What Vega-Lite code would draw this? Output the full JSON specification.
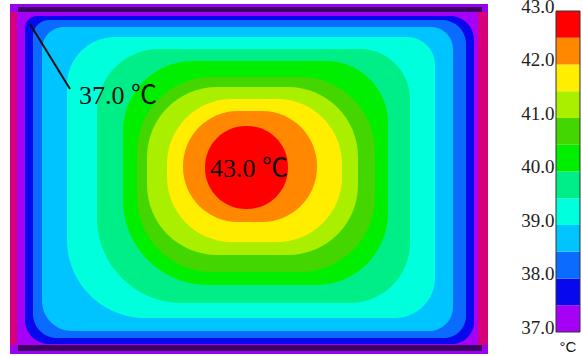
{
  "$schema": "https://vega.github.io/schema/vega-lite/v6.json",
  "padding": {"left": 10, "top": -3, "right": 2, "bottom": 1},
  "background": "white",
  "spacing": 32,
  "config": {"view": {"stroke": null}},
  "datasets": {
    "frame": [
      {"part": "wall", "x1": 0, "x2": 239, "y1": 0, "y2": 175},
      {"part": "rim", "x1": 0, "x2": 239, "y1": 0, "y2": 4},
      {"part": "rim", "x1": 0, "x2": 239, "y1": 170.5, "y2": 175},
      {"part": "seal", "x1": 4, "x2": 236, "y1": 1.5, "y2": 4},
      {"part": "seal", "x1": 4, "x2": 236, "y1": 170.5, "y2": 173.5}
    ],
    "bands": [
      {"t": 37.25, "x1": 3.5, "x2": 234, "y1": 4, "y2": 170.5},
      {"t": 37.75, "x1": 7.5, "x2": 232, "y1": 6, "y2": 170},
      {"t": 38.25, "x1": 11.5, "x2": 228, "y1": 8, "y2": 167},
      {"t": 38.75, "x1": 16, "x2": 221.5, "y1": 11.5, "y2": 163.5},
      {"t": 39.25, "x1": 28.5, "x2": 212.5, "y1": 16.5, "y2": 157},
      {"t": 39.75, "x1": 43.5, "x2": 200, "y1": 22.5, "y2": 149.5},
      {"t": 40.25, "x1": 56.5, "x2": 189, "y1": 28.5, "y2": 140.5},
      {"t": 40.75, "x1": 63.5, "x2": 182.5, "y1": 36.5, "y2": 134},
      {"t": 41.25, "x1": 68.5, "x2": 174, "y1": 41.5, "y2": 125.5},
      {"t": 41.75, "x1": 78.5, "x2": 166, "y1": 47.5, "y2": 119},
      {"t": 42.25, "x1": 86.5, "x2": 153.5, "y1": 53.5, "y2": 109},
      {"t": 42.75, "x1": 97.5, "x2": 139, "y1": 61, "y2": 102.5}
    ],
    "labels": [
      {"label": "43.0 ℃", "x1": 119.5, "y1": 82.5},
      {"label": "37.0 ℃", "x1": 54, "y1": 46}
    ],
    "leader": [
      {"x1": 10, "y1": 10, "x2": 30, "y2": 42.5}
    ],
    "scale": [
      {"lo": 37.0, "hi": 37.5, "t": 37.25},
      {"lo": 37.5, "hi": 38.0, "t": 37.75},
      {"lo": 38.0, "hi": 38.5, "t": 38.25},
      {"lo": 38.5, "hi": 39.0, "t": 38.75},
      {"lo": 39.0, "hi": 39.5, "t": 39.25},
      {"lo": 39.5, "hi": 40.0, "t": 39.75},
      {"lo": 40.0, "hi": 40.5, "t": 40.25},
      {"lo": 40.5, "hi": 41.0, "t": 40.75},
      {"lo": 41.0, "hi": 41.5, "t": 41.25},
      {"lo": 41.5, "hi": 42.0, "t": 41.75},
      {"lo": 42.0, "hi": 42.5, "t": 42.25},
      {"lo": 42.5, "hi": 43.0, "t": 42.75}
    ],
    "outline": [{"lo": 37.0, "hi": 43.0}],
    "unit": [{"text": "°C", "pos": 36.72}]
  },
  "hconcat": [
    {
      "width": 478,
      "height": 350,
      "encoding": {
        "x": {"field": "x1", "type": "quantitative", "scale": {"domain": [0, 239], "nice": false, "zero": false}, "axis": null},
        "y": {"field": "y1", "type": "quantitative", "scale": {"domain": [0, 175], "nice": false, "zero": false, "reverse": true}, "axis": null}
      },
      "layer": [
        {
          "data": {"name": "frame"},
          "transform": [{"filter": "datum.part == 'wall'"}],
          "mark": {"type": "rect", "color": "#d6007c"},
          "encoding": {"x2": {"field": "x2"}, "y2": {"field": "y2"}}
        },
        {
          "data": {"name": "bands"},
          "encoding": {
            "x2": {"field": "x2"},
            "y2": {"field": "y2"},
            "color": {
              "field": "t",
              "type": "quantitative",
              "scale": {
                "type": "quantize",
                "domain": [37, 43],
                "nice": false,
                "zero": false,
                "range": ["#a600f6", "#0808ee", "#0a6cff", "#00c4ff", "#00ffdd", "#00ee88", "#00ee00", "#44d600", "#aaee00", "#ffee00", "#ff8800", "#ff0000"]
              },
              "legend": null
            }
          },
          "layer": [
            {"transform": [{"filter": "datum.t == 37.25"}], "mark": {"type": "rect", "cornerRadius": 0}},
            {"transform": [{"filter": "datum.t == 37.75"}], "mark": {"type": "rect", "cornerRadiusTopLeft": 12, "cornerRadiusTopRight": 24, "cornerRadiusBottomLeft": 24, "cornerRadiusBottomRight": 22}},
            {"transform": [{"filter": "datum.t == 38.25"}], "mark": {"type": "rect", "cornerRadiusTopLeft": 16, "cornerRadiusTopRight": 24, "cornerRadiusBottomLeft": 24, "cornerRadiusBottomRight": 22}},
            {"transform": [{"filter": "datum.t == 38.75"}], "mark": {"type": "rect", "cornerRadiusTopLeft": 22, "cornerRadiusTopRight": 22, "cornerRadiusBottomLeft": 30, "cornerRadiusBottomRight": 24}},
            {"transform": [{"filter": "datum.t == 39.25"}], "mark": {"type": "rect", "cornerRadiusTopLeft": 48, "cornerRadiusTopRight": 28, "cornerRadiusBottomLeft": 78, "cornerRadiusBottomRight": 40}},
            {"transform": [{"filter": "datum.t == 39.75"}], "mark": {"type": "rect", "cornerRadiusTopLeft": 62, "cornerRadiusTopRight": 50, "cornerRadiusBottomLeft": 85, "cornerRadiusBottomRight": 60}},
            {"transform": [{"filter": "datum.t == 40.25"}], "mark": {"type": "rect", "cornerRadiusTopLeft": 70, "cornerRadiusTopRight": 62, "cornerRadiusBottomLeft": 85, "cornerRadiusBottomRight": 72}},
            {"transform": [{"filter": "datum.t == 40.75"}], "mark": {"type": "rect", "cornerRadius": 75}},
            {"transform": [{"filter": "datum.t == 41.25"}], "mark": {"type": "rect", "cornerRadius": 70}},
            {"transform": [{"filter": "datum.t == 41.75"}], "mark": {"type": "rect", "cornerRadius": 65}},
            {"transform": [{"filter": "datum.t == 42.25"}], "mark": {"type": "rect", "cornerRadius": 55}},
            {"transform": [{"filter": "datum.t == 42.75"}], "mark": {"type": "rect", "cornerRadius": 41}}
          ]
        },
        {
          "data": {"name": "frame"},
          "transform": [{"filter": "datum.part == 'rim'"}],
          "mark": {"type": "rect", "color": "#9a00f0"},
          "encoding": {"x2": {"field": "x2"}, "y2": {"field": "y2"}}
        },
        {
          "data": {"name": "frame"},
          "transform": [{"filter": "datum.part == 'seal'"}],
          "mark": {"type": "rect", "color": "#3c0062"},
          "encoding": {"x2": {"field": "x2"}, "y2": {"field": "y2"}}
        },
        {
          "data": {"name": "leader"},
          "mark": {"type": "rule", "color": "#111111", "strokeWidth": 2},
          "encoding": {"x2": {"field": "x2"}, "y2": {"field": "y2"}}
        },
        {
          "data": {"name": "labels"},
          "mark": {"type": "text", "font": "Liberation Serif, Noto Sans CJK SC", "fontSize": 26, "color": "#111111", "align": "center", "baseline": "middle"},
          "encoding": {"text": {"field": "label"}}
        }
      ]
    },
    {
      "width": 24,
      "height": 350,
      "layer": [
        {
          "data": {"name": "scale"},
          "mark": {"type": "rect"},
          "encoding": {
            "y": {
              "field": "lo",
              "type": "quantitative",
              "scale": {"domain": [36.589, 43.131], "nice": false, "zero": false},
              "axis": {
                "values": [37, 38, 39, 40, 41, 42, 43],
                "format": ".1f",
                "orient": "left",
                "title": null,
                "ticks": false,
                "domain": false,
                "grid": false,
                "labelPadding": 2,
                "labelOffset": 1,
                "labelFont": "Liberation Serif",
                "labelFontSize": 19,
                "labelColor": "#222222",
                "labelBaseline": "alphabetic",
                "labelOverlap": false,
                "labelFlush": false
              }
            },
            "y2": {"field": "hi"},
            "color": {
              "field": "t",
              "type": "quantitative",
              "scale": {
                "type": "quantize",
                "domain": [37, 43],
                "nice": false,
                "zero": false,
                "range": ["#a600f6", "#0808ee", "#0a6cff", "#00c4ff", "#00ffdd", "#00ee88", "#00ee00", "#44d600", "#aaee00", "#ffee00", "#ff8800", "#ff0000"]
              },
              "legend": null
            }
          }
        },
        {
          "data": {"name": "outline"},
          "mark": {"type": "rect", "fill": null, "filled": false, "stroke": "#333333", "strokeWidth": 1},
          "encoding": {
            "y": {"field": "lo", "type": "quantitative"},
            "y2": {"field": "hi"}
          }
        },
        {
          "data": {"name": "unit"},
          "mark": {"type": "text", "font": "Liberation Sans", "fontSize": 15, "color": "#111111", "align": "center", "baseline": "middle"},
          "encoding": {
            "y": {"field": "pos", "type": "quantitative"},
            "text": {"field": "text"}
          }
        }
      ]
    }
  ]
}
